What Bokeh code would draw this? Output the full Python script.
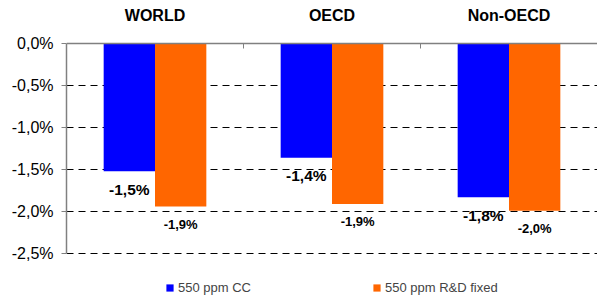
import numpy as np
from bokeh.plotting import figure
from bokeh.models import (Range1d, FixedTicker, Legend, LegendItem, Span,
                          ColumnDataSource, CustomJSTickFormatter)
from bokeh.core.properties import value
from bokeh.embed import file_html
from bokeh.resources import INLINE

regions = ["WORLD", "OECD", "Non-OECD"]
series_names = ["550 ppm CC", "550 ppm R&D fixed"]
cc_values = [-1.52, -1.36, -1.83]
rd_values = [-1.94, -1.91, -1.99]
y_ticks = [0.0, -0.5, -1.0, -1.5, -2.0, -2.5]

BLUE = "#0000FF"
ORANGE = "#FF6600"
GRAY = "#808080"
FONT = "Liberation Sans"

def fmt(v):
    return f"{v:.1f}".replace(".", ",") + "%"

W, H = 597, 304
LEFT = 66          # px of the value axis
ZERO_PX = 43       # px of the 0 line from top
PX_PER_PCT = 84.0  # px per 1 %

centers = np.arange(len(regions)) + 0.5
bw = 0.29

y_top = ZERO_PX / PX_PER_PCT
y_bot = -(H - ZERO_PX) / PX_PER_PCT

p = figure(width=W, height=H, output_backend="svg", toolbar_location=None,
           x_range=Range1d(0, len(regions)), y_range=Range1d(y_bot, y_top),
           min_border_left=LEFT, min_border_right=0, min_border_top=0, min_border_bottom=0,
           x_axis_location=None)
p.outline_line_color = None
p.background_fill_color = "white"
p.border_fill_color = "white"

src_cc = ColumnDataSource(dict(x=centers - bw / 2, top=[0] * 3, bottom=cc_values,
                               lab=[fmt(v) for v in cc_values]))
src_rd = ColumnDataSource(dict(x=centers + bw / 2, top=[0] * 3, bottom=rd_values,
                               lab=[fmt(v) for v in rd_values]))
src_reg = ColumnDataSource(dict(x=centers, y=[0] * 3, name=regions))

# grid
p.xgrid.grid_line_color = None
p.ygrid.ticker = FixedTicker(ticks=[t for t in y_ticks if t != 0])
p.ygrid.grid_line_color = "black"
p.ygrid.grid_line_dash = "7 5"
p.ygrid.grid_line_width = 1

r_cc = p.vbar(x="x", top="top", bottom="bottom", width=bw, source=src_cc,
              fill_color=BLUE, line_color=None)
r_rd = p.vbar(x="x", top="top", bottom="bottom", width=bw, source=src_rd,
              fill_color=ORANGE, line_color=None)

# zero line and category separators
p.add_layout(Span(location=0, dimension="width", line_color=GRAY, line_width=1.5))
p.ray(x=list(range(1, len(regions))), y=[0] * (len(regions) - 1), length=5,
      length_units="screen", angle=-np.pi / 2, line_color=GRAY, line_width=1)

p.text(x="x", y="bottom", text="lab", source=src_cc, y_offset=18,
       text_align="center", text_baseline="middle", text_font=value(FONT),
       text_font_size="15.5px", text_font_style="bold", text_color="black")
p.text(x="x", y="bottom", text="lab", source=src_rd, y_offset=18,
       text_align="center", text_baseline="middle", text_font=value(FONT),
       text_font_size="13px", text_font_style="bold", text_color="black")
p.text(x="x", y="y", text="name", source=src_reg, y_offset=-28,
       text_align="center", text_baseline="middle", text_font=value(FONT),
       text_font_size="16px", text_font_style="bold", text_color="black")

# y axis
yax = p.yaxis[0]
yax.ticker = FixedTicker(ticks=y_ticks)
yax.bounds = (min(y_ticks), max(y_ticks))
yax.formatter = CustomJSTickFormatter(code="return tick.toFixed(1).replace('.', ',') + '%';")
yax.axis_line_color = GRAY
yax.axis_line_width = 1.5
yax.major_tick_line_color = GRAY
yax.major_tick_out = 5
yax.major_tick_in = 0
yax.minor_tick_line_color = None
yax.major_label_standoff = 8
yax.major_label_text_font = FONT
yax.major_label_text_font_size = "16px"
yax.major_label_text_color = "black"

for r, name, xloc in [(r_cc, series_names[0], 99), (r_rd, series_names[1], 306)]:
    leg = Legend(items=[LegendItem(label=name, renderers=[r])], location=(xloc, 9),
                 orientation="horizontal", padding=0, margin=0, spacing=0,
                 glyph_width=9, glyph_height=9, label_standoff=4, label_height=13,
                 label_text_font=FONT, label_text_font_size="13px",
                 border_line_color=None, background_fill_alpha=0)
    p.add_layout(leg, "center")

open("out.html", "w").write(file_html(p, INLINE))
